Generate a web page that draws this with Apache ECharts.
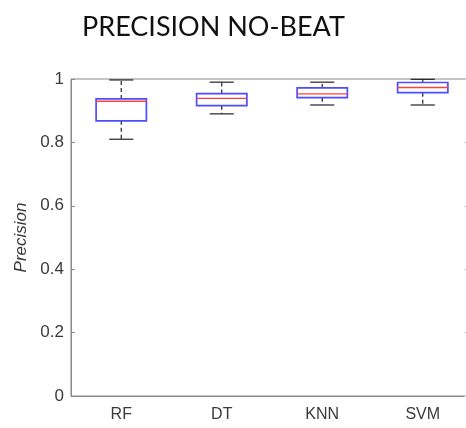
<!DOCTYPE html>
<html>
<head>
<meta charset="utf-8">
<style>
  html, body { margin: 0; padding: 0; background: #fff; }
  #chart { width: 466px; height: 428px; }
</style>
<script src="https://cdn.jsdelivr.net/npm/echarts@6/dist/echarts.min.js"></script>
</head>
<body>
<div id="chart"></div>
<script>
// Box stats per classifier: lower whisker, Q1, median, Q3, upper whisker
var categories = ['RF', 'DT', 'KNN', 'SVM'];
var whiskerLow  = [0.810, 0.890, 0.918, 0.918];
var quartile1   = [0.868, 0.916, 0.941, 0.957];
var medians     = [0.930, 0.939, 0.953, 0.973];
var quartile3   = [0.937, 0.954, 0.972, 0.989];
var whiskerHigh = [0.997, 0.990, 0.990, 0.999];
var yTicks = [0, 0.2, 0.4, 0.6, 0.8, 1];

var rows = categories.map(function (c, i) {
  return [i, whiskerLow[i], quartile1[i], medians[i], quartile3[i], whiskerHigh[i]];
});

// MATLAB-style box: blue box, red median, black dashed whiskers with caps
function renderBox(params, api) {
  var i = api.value(0);
  var band = api.size([1, 0])[0];
  var half = band * 0.25;
  var capHalf = band * 0.12;
  var pLow = api.coord([i, api.value(1)]);
  var pQ1  = api.coord([i, api.value(2)]);
  var pMed = api.coord([i, api.value(3)]);
  var pQ3  = api.coord([i, api.value(4)]);
  var pHigh = api.coord([i, api.value(5)]);
  var cx = pMed[0];
  var dashed = { stroke: '#222', lineWidth: 1.2, lineDash: [4, 3] };
  var solid = { stroke: '#222', lineWidth: 1.2 };
  return {
    type: 'group',
    children: [
      { type: 'line', shape: { x1: cx, y1: pQ3[1], x2: cx, y2: pHigh[1] }, style: dashed },
      { type: 'line', shape: { x1: cx, y1: pQ1[1], x2: cx, y2: pLow[1] }, style: dashed },
      { type: 'line', shape: { x1: cx - capHalf, y1: pHigh[1], x2: cx + capHalf, y2: pHigh[1] }, style: solid },
      { type: 'line', shape: { x1: cx - capHalf, y1: pLow[1], x2: cx + capHalf, y2: pLow[1] }, style: solid },
      { type: 'rect', shape: { x: cx - half, y: pQ3[1], width: half * 2, height: pQ1[1] - pQ3[1] },
        style: { fill: 'none', stroke: '#4d4dff', lineWidth: 1.7 } },
      { type: 'line', shape: { x1: cx - half, y1: pMed[1], x2: cx + half, y2: pMed[1] },
        style: { stroke: '#ff4040', lineWidth: 1.4 } }
    ]
  };
}

var chart = echarts.init(document.getElementById('chart'), null, { renderer: 'canvas' });
chart.setOption({
  backgroundColor: '#fff',
  animation: false,
  title: {
    text: 'PRECISION NO-BEAT',
    left: 77,
    top: 9,
    textStyle: { fontFamily: 'Lato', fontWeight: 'normal', fontSize: 27, color: '#111' }
  },
  grid: {
    left: 71, top: 79, width: 402, height: 317,
    outerBoundsMode: 'none', containLabel: false,
    show: true, borderColor: '#8a8a8a', borderWidth: 1
  },
  xAxis: {
    type: 'category',
    data: categories,
    boundaryGap: true,
    axisLine: { lineStyle: { color: '#8a8a8a' } },
    axisTick: { alignWithLabel: true, inside: true, length: 4, lineStyle: { color: '#8a8a8a' } },
    axisLabel: { color: '#3a3a3a', fontFamily: 'Liberation Sans', fontSize: 16, margin: 11 },
    splitLine: { show: false }
  },
  yAxis: [{
    type: 'value',
    min: yTicks[0],
    max: yTicks[yTicks.length - 1],
    interval: 0.2,
    name: 'Precision',
    nameLocation: 'middle',
    nameGap: 41,
    nameTextStyle: { color: '#3a3a3a', fontFamily: 'Liberation Sans', fontSize: 17, fontStyle: 'italic' },
    axisLine: { show: true, lineStyle: { color: '#8a8a8a' } },
    axisTick: { show: true, inside: true, length: 4, lineStyle: { color: '#8a8a8a' } },
    axisLabel: { color: '#3a3a3a', fontFamily: 'Liberation Sans', fontSize: 17, margin: 7 },
    splitLine: { show: false }
  }, {
    type: 'value',
    position: 'right',
    min: yTicks[0],
    max: yTicks[yTicks.length - 1],
    interval: 0.2,
    axisLine: { show: true, lineStyle: { color: '#8a8a8a' } },
    axisTick: { show: true, inside: true, length: 9, lineStyle: { color: '#d0d0d0' } },
    axisLabel: { show: false },
    splitLine: { show: false }
  }],
  series: [{
    type: 'custom',
    renderItem: renderBox,
    encode: { x: 0, y: [1, 2, 3, 4, 5] },
    data: rows
  }]
});
</script>
</body>
</html>
